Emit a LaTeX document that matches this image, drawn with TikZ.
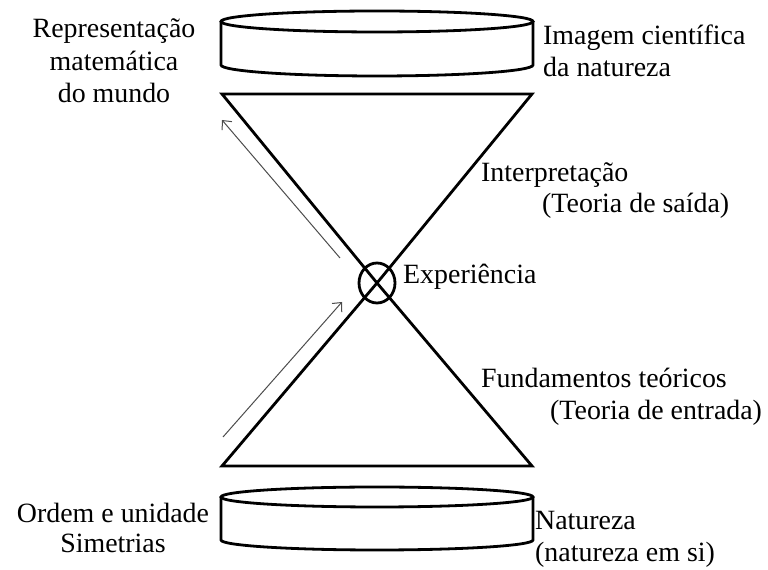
\documentclass[tikz,border=0pt]{standalone}
\usepackage{fontspec}
\setmainfont{Liberation Serif}
\usetikzlibrary{positioning,shapes.geometric,arrows.meta}
\newcommand{\cylrx}{156}
\newcommand{\cylry}{10.5}
\tikzstyle{edge}=[line width=2.8bp,line join=miter,draw=black]
\tikzstyle{flow}=[line width=1bp,draw=black!70,-{Straight Barb[length=7bp,width=13bp]}]
\tikzstyle{txt}=[inner sep=0pt,font=\fontsize{28}{33}\selectfont]
\tikzstyle{hub}=[ellipse,draw=black,line width=2.8bp,minimum width=36bp,minimum height=40bp,inner sep=0pt]

\begin{document}
\begin{tikzpicture}[x=1bp,y=1bp]
\useasboundingbox (0,0) rectangle (768,570);

% top cylinder
\draw [edge] (377,548.5) ellipse [x radius=\cylrx, y radius=\cylry];
\draw [edge] (221,548.5) -- (221,505) arc [start angle=180, end angle=360, x radius=\cylrx, y radius=11] -- (533,548.5);

% bottom cylinder
\draw [edge] (377,73) ellipse [x radius=\cylrx, y radius=10];
\draw [edge] (221,73) -- (221,30) arc [start angle=180, end angle=360, x radius=\cylrx, y radius=10] -- (533,73);

% hourglass
\coordinate (ul) at (222,476);
\coordinate (ur) at (532,476);
\coordinate (ll) at (222,104);
\coordinate (lr) at (532,104);
\node [hub] (hub) at (377,287) {};
\draw [edge] (ul) -- (ur) -- (hub.center) -- cycle;
\draw [edge] (ll) -- (lr) -- (hub.center) -- cycle;

\coordinate (a1) at (340,312);
\coordinate (b1) at (222,450);
\coordinate (a2) at (223,133);
\coordinate (b2) at (342,268);
\draw [flow] (a1) -- (b1);
\draw [flow] (a2) -- (b2);

% labels (base of a multi-line node = its last line)
\node [txt, align=center, anchor=base] (repr) at (114,467) {Representação\\matemática\\do mundo};
\node [txt, align=left, anchor=base west] (imag) at (543,493) {Imagem científica\\da natureza};
\node [txt, anchor=base west] (interp) at (481,388) {Interpretação};
\node [txt, anchor=base west] (saida) at (542,357) {(Teoria de saída)};
\node [txt, anchor=base west] (exper) at (403,286) {Experiência};
\node [txt, anchor=base west] (fund) at (481,182) {Fundamentos teóricos};
\node [txt, anchor=base west] (entrada) at (550,150) {(Teoria de entrada)};
\node [txt, align=center, anchor=base, font=\fontsize{28}{31}\selectfont] (ordem) at (113,17) {Ordem e unidade\\Simetrias};
\node [txt, align=left, anchor=base west] (natur) at (535,8) {Natureza\\(natureza em si)};
\end{tikzpicture}
\end{document}
